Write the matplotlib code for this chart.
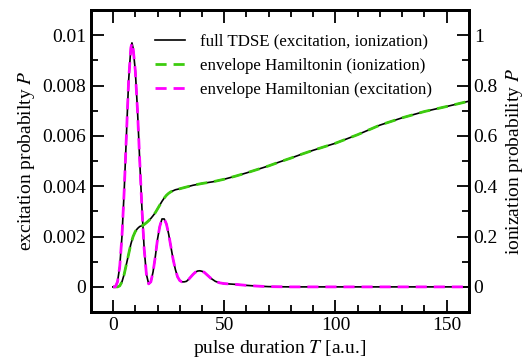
import matplotlib
matplotlib.use("Agg")
import matplotlib.pyplot as plt
import numpy as np
from matplotlib.ticker import MultipleLocator

plt.rcParams['font.family'] = ['Liberation Serif', 'DejaVu Serif']
plt.rcParams['mathtext.fontset'] = 'stix'

# excitation probability (left axis)
T_exc = [0, 1, 2, 3, 4, 5, 6, 7, 8, 8.5, 9, 10, 11, 12, 13, 14, 15, 16, 17, 18, 19, 20,
         21, 22, 23, 24, 25, 26, 27, 28, 29, 30, 31, 32, 33, 34, 35, 36, 37, 38, 39, 40,
         41, 42, 43, 44, 46, 48, 50, 55, 60, 65, 70, 80, 100, 130, 160]
P_exc = [0, 0, 0.0002, 0.0008, 0.0020, 0.0038, 0.0060, 0.0082, 0.0095, 0.0097, 0.0095,
         0.0086, 0.0070, 0.0050, 0.0031, 0.0015, 0.0005, 0.00012, 0.0002, 0.0006, 0.0012,
         0.0019, 0.0024, 0.0027, 0.0027, 0.0025, 0.0021, 0.0016, 0.0011, 0.0007, 0.0004,
         0.00025, 0.0002, 0.0002, 0.00022, 0.0003, 0.0004, 0.0005, 0.00058, 0.00063,
         0.00064, 0.00062, 0.00058, 0.0005, 0.00042, 0.00034, 0.00022, 0.00016, 0.00013,
         0.0001, 0.00006, 0.00003, 0.00001, 0, 0, 0, 0]

# ionization probability (right axis)
T_ion = [0, 2, 3, 4, 5, 6, 7, 8, 9, 10, 11, 12, 13, 14, 15, 16, 17, 18, 19, 20, 21, 22,
         23, 24, 25, 26, 27, 28, 30, 33, 36, 40, 45, 50, 55, 60, 65, 70, 75, 80, 85, 90,
         95, 100, 110, 120, 130, 140, 150, 160]
P_ion = [0, 0, 0.004, 0.02, 0.05, 0.09, 0.13, 0.17, 0.20, 0.22, 0.232, 0.24, 0.243,
         0.248, 0.255, 0.263, 0.272, 0.283, 0.295, 0.31, 0.325, 0.34, 0.353, 0.364, 0.372,
         0.378, 0.382, 0.386, 0.39, 0.397, 0.404, 0.411, 0.418, 0.428, 0.44, 0.453, 0.467,
         0.481, 0.497, 0.512, 0.528, 0.543, 0.557, 0.571, 0.605, 0.643, 0.672, 0.697,
         0.717, 0.738]

green = '#3dcc0f'
magenta = '#ff00ff'

fig = plt.figure(figsize=(5.28, 3.62), dpi=100)
ax = fig.add_axes([0.172, 0.138, 0.716, 0.834])
ax2 = ax.twinx()

l1, = ax.plot(T_exc, P_exc, color='black', lw=1.2, zorder=2)
ax2.plot(T_ion, P_ion, color='black', lw=1.2, zorder=2)
l2, = ax2.plot(T_ion, P_ion, color=green, lw=2, ls=(0, (4, 2.5)), zorder=3)
l3, = ax2.plot(T_exc, np.array(P_exc) * 100, color=magenta, lw=2, ls=(0, (4, 2.5)), zorder=3)

ax.set_xlim(-10, 160)
ax.set_ylim(-0.001, 0.011)
ax2.set_ylim(-0.1, 1.1)

ax.set_xticks([0, 50, 100, 150])
ax.xaxis.set_minor_locator(MultipleLocator(10))
ax.set_yticks([0, 0.002, 0.004, 0.006, 0.008, 0.01])
ax.set_yticklabels(['0', '0.002', '0.004', '0.006', '0.008', '0.01'])
ax.yaxis.set_minor_locator(MultipleLocator(0.001))
ax2.set_yticks([0, 0.2, 0.4, 0.6, 0.8, 1])
ax2.set_yticklabels(['0', '0.2', '0.4', '0.6', '0.8', '1'])
ax2.yaxis.set_minor_locator(MultipleLocator(0.1))

ax.tick_params(which='both', direction='in', top=True, right=False, labelsize=14, width=1.3)
ax.tick_params(which='major', length=9)
ax.tick_params(which='minor', length=5)
ax2.tick_params(which='both', direction='in', labelsize=14, width=1.3)
ax2.tick_params(which='major', length=9)
ax2.tick_params(which='minor', length=5)

for a in (ax, ax2):
    for s in a.spines.values():
        s.set_linewidth(2)

ax.set_xlabel('pulse duration $T$ [a.u.]', fontsize=14, labelpad=3)
ax.set_ylabel('excitation probabilty $P$', fontsize=14)
ax2.set_ylabel('ionization probability $P$', fontsize=14)

ax2.legend([l1, l2, l3],
           ['full TDSE (excitation, ionization)',
            'envelope Hamiltonin (ionization)',
            'envelope Hamiltonian (excitation)'],
           loc='upper left', bbox_to_anchor=(0.169, 0.922), frameon=False,
           borderpad=0, borderaxespad=0,
           fontsize=12.2, handlelength=1.8, labelspacing=0.48, handletextpad=0.9)

fig.savefig('out.png', dpi=100)
